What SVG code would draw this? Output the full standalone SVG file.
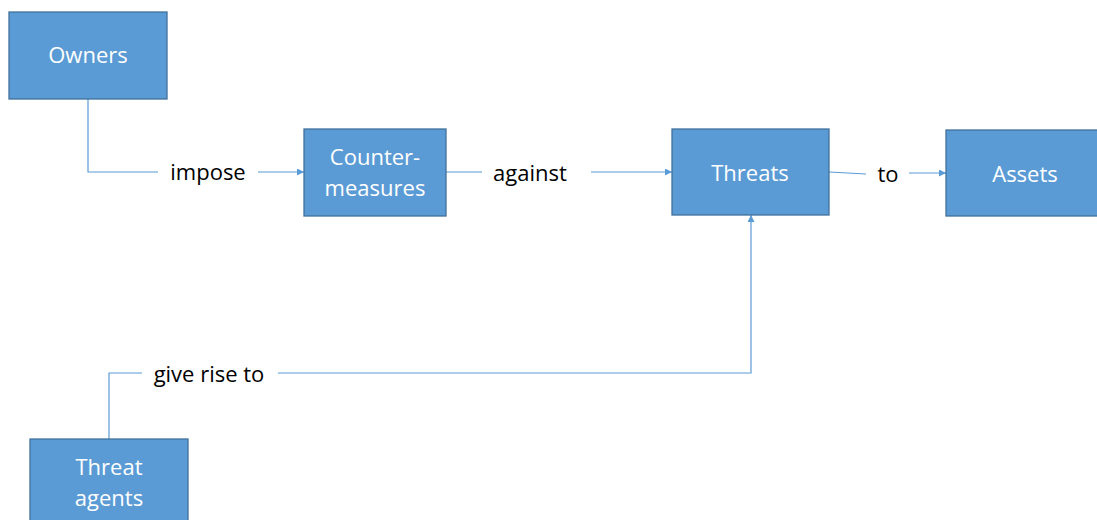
<svg xmlns="http://www.w3.org/2000/svg" width="1097" height="520" viewBox="0 0 1097 520">
<style>
.box{fill:#5b9bd5;stroke:#41719c;stroke-width:1.3}
.nt{font-family:"Open Sans","Liberation Sans",sans-serif;font-size:22px;fill:#ffffff;text-anchor:middle}
.lt{font-family:"Open Sans","Liberation Sans",sans-serif;font-size:22px;fill:#000000;text-anchor:middle}
.ln{fill:none;stroke:#5b9bd5;stroke-width:1.2}
</style>
<defs>
<marker id="ah" viewBox="0 0 10 10" refX="10" refY="5" markerWidth="8" markerHeight="7" markerUnits="userSpaceOnUse" orient="auto">
<path d="M0,0 L10,5 L0,10 z" fill="#5b9bd5"/>
</marker>
</defs>
<rect width="1097" height="520" fill="#ffffff"/>
<g id="connectors">
<polyline class="ln" points="88,99 88,172 158,172"/>
<line class="ln" x1="258" y1="172" x2="304" y2="172" marker-end="url(#ah)"/>
<line class="ln" x1="446" y1="172" x2="482" y2="172"/>
<line class="ln" x1="591" y1="172" x2="672" y2="172" marker-end="url(#ah)"/>
<line class="ln" x1="829" y1="172" x2="866" y2="174"/>
<line class="ln" x1="909" y1="173" x2="946" y2="173" marker-end="url(#ah)"/>
<polyline class="ln" points="109,439 109,373 142,373"/>
<polyline class="ln" points="278,373 751,373 751,215" marker-end="url(#ah)"/>
<text class="lt" x="208" y="180">impose</text>
<text class="lt" x="530" y="181">against</text>
<text class="lt" x="888" y="182">to</text>
<text class="lt" x="209" y="382">give rise to</text>
</g>
<g id="owners">
<rect class="box" x="9" y="12" width="158" height="87"/>
<text class="nt" x="88" y="63">Owners</text>
</g>
<g id="countermeasures">
<rect class="box" x="304" y="129" width="142" height="87"/>
<text class="nt" x="375" y="165">Counter-</text>
<text class="nt" x="375" y="196">measures</text>
</g>
<g id="threats">
<rect class="box" x="672" y="129" width="157" height="86"/>
<text class="nt" x="750" y="181">Threats</text>
</g>
<g id="assets">
<rect class="box" x="946" y="130" width="158" height="86"/>
<text class="nt" x="1025" y="182">Assets</text>
</g>
<g id="threat-agents">
<rect class="box" x="30" y="439" width="158" height="87"/>
<text class="nt" x="109" y="475">Threat</text>
<text class="nt" x="109" y="506">agents</text>
</g>
</svg>
